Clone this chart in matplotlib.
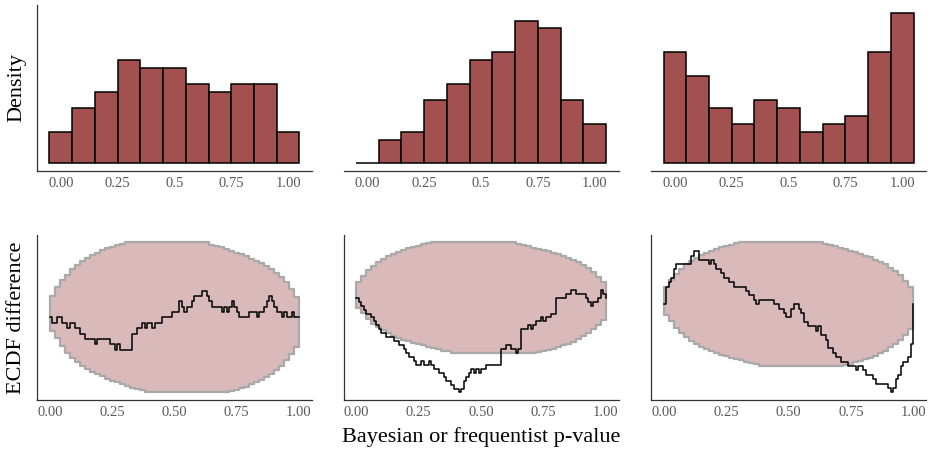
import numpy as np
import matplotlib
matplotlib.use("Agg")
import matplotlib.pyplot as plt

plt.rcParams['font.family'] = ['Liberation Serif', 'DejaVu Serif']

# histogram of p-values, 11 bins of width 0.1 centred on 0, 0.1, ..., 1
bin_centers = [0.0, 0.1, 0.2, 0.3, 0.4, 0.5, 0.6, 0.7, 0.8, 0.9, 1.0]
dens_1 = [0.4, 0.7, 0.9, 1.3, 1.2, 1.2, 1.0, 0.9, 1.0, 1.0, 0.4]
dens_2 = [0.0, 0.3, 0.4, 0.8, 1.0, 1.3, 1.4, 1.8, 1.7, 0.8, 0.5]
dens_3 = [1.4, 1.1, 0.7, 0.5, 0.8, 0.7, 0.4, 0.5, 0.6, 1.4, 1.9]
top_ticks = [0.0, 0.25, 0.5, 0.75, 1.0]
top_labels = ["0.00", "0.25", "0.5", "0.75", "1.00"]
bottom_labels = ["0.00", "0.25", "0.50", "0.75", "1.00"]

# ECDF difference (in 1/100) evaluated at z = 0, 0.01, ..., 1
ecdf_1 = [0, -1, -1, 0, 0, -1, -1, -2, -1, -1, -2, -2, -3, -3, -4, -4, -4, -4, -5, -4,
          -4, -4, -4, -4, -5, -5, -6, -5, -6, -6, -6, -6, -6, -3, -3, -2, -2, -1, -2, -1,
          -1, -2, -1, -1, -1, 0, 0, 0, 0, 1, 1, 1, 3, 2, 1, 2, 2, 3, 4, 4,
          4, 5, 5, 4, 3, 2, 2, 2, 2, 1, 2, 1, 2, 3, 2, 1, 0, 0, 0, 0,
          1, 1, 1, 0, 1, 1, 2, 3, 4, 3, 2, 1, 1, 0, 1, 0, 0, 1, 0, 0, 0]
ecdf_2 = [0, -1, -2, -3, -4, -4, -5, -6, -7, -8, -9, -9, -10, -10, -10, -11, -11, -12, -12, -13,
          -14, -15, -15, -16, -17, -17, -16, -17, -17, -16, -17, -18, -18, -19, -19, -20, -21, -21, -22, -23,
          -23, -24, -23, -21, -20, -19, -18, -19, -18, -19, -18, -18, -17, -17, -17, -17, -17, -17, -13, -13,
          -12, -12, -13, -13, -14, -13, -8, -8, -8, -7, -8, -7, -6, -6, -5, -6, -5, -5, -4, -4,
          0, 0, 0, 0, 1, 1, 2, 2, 1, 1, 1, 1, 0, -1, -2, -1, -1, 0, 2, 1, 0]
ecdf_3 = [0, 4, 5, 6, 8, 9, 9, 9, 9, 9, 9, 11, 12, 12, 10, 10, 10, 10, 9, 10,
          9, 8, 8, 7, 6, 6, 5, 5, 4, 4, 4, 4, 4, 3, 2, 2, 1, 0, 1, 1,
          1, 1, 1, 1, 0, 0, -1, -1, -2, -3, -3, -1, 0, 0, -1, -2, -4, -4, -5, -5,
          -5, -6, -5, -7, -7, -8, -10, -10, -11, -12, -12, -13, -13, -13, -14, -14, -14, -15, -14, -14,
          -15, -16, -16, -16, -17, -18, -18, -18, -18, -18, -19, -20, -19, -17, -16, -14, -13, -13, -12, -9, 0]

# upper edge of the simultaneous band (in 1/100) at z = 0, 0.02, ..., 1
band_upper = [4.0, 5.6, 6.9, 8.0, 9.0, 9.8, 10.5, 11.1, 11.7, 12.1,
              12.5, 12.9, 13.2, 13.5, 13.8, 14, 14, 14, 14, 14,
              14, 14, 14, 14, 14, 14, 14, 14, 14, 14,
              14, 14, 13.6, 13.4, 13.1, 12.7, 12.4, 12.1, 11.8, 11.4,
              11.0, 10.6, 10.1, 9.6, 9.0, 8.3, 7.5, 6.6, 5.3, 3.9, 2.5]

bar_color = '#A25050'
band_color = '#d9b9b9'
band_edge = '#a9a9a9'
axis_color = '#333333'
tick_color = '#595959'

fig = plt.figure(figsize=(9.31, 4.51), dpi=100)

lefts = [0.0397, 0.369, 0.6993]
width = 0.2954
top_axes = [fig.add_axes([l, 0.6208, width, 0.368]) for l in lefts]
bot_axes = [fig.add_axes([l, 0.1131, width, 0.366]) for l in lefts]

def style(ax, show_left):
    for side in ['top', 'right']:
        ax.spines[side].set_visible(False)
    ax.spines['left'].set_visible(show_left)
    for side in ['left', 'bottom']:
        ax.spines[side].set_color(axis_color)
        ax.spines[side].set_linewidth(0.9)
    ax.set_yticks([])
    ax.tick_params(axis='x', length=0, pad=4, labelsize=10.5, labelcolor=tick_color)

for i, (ax, d) in enumerate(zip(top_axes, [dens_1, dens_2, dens_3])):
    ax.bar(bin_centers, d, width=0.1, color=bar_color, edgecolor='black', linewidth=1.1)
    ax.set_xlim(-0.105, 1.105)
    ax.set_ylim(-0.095, 1.995)
    ax.set_xticks(top_ticks)
    ax.set_xticklabels(top_labels)
    style(ax, i == 0)

z = np.linspace(0, 1, len(ecdf_1))
zb = np.linspace(0, 1, len(band_upper))
up = np.array(band_upper) / 100
lo = -up[::-1]

for ax, e in zip(bot_axes, [ecdf_1, ecdf_2, ecdf_3]):
    e = np.array(e) / 100
    ax.fill_between(zb, lo, up, step='post', facecolor=band_color,
                    edgecolor=band_edge, linewidth=1.6)
    ax.step(z, e, where='post', color='black', linewidth=1.1)
    ax.set_xlim(-0.052, 1.052)
    ymin = min(lo.min(), e.min())
    ymax = max(up.max(), e.max())
    pad = 0.05 * (ymax - ymin)
    ax.set_ylim(ymin - pad, ymax + pad)
    ax.set_xticks(top_ticks)
    ax.set_xticklabels(bottom_labels)
    style(ax, True)

fig.text(0.018, 0.805, "Density", rotation=90, ha='center', va='center', fontsize=16)
fig.text(0.018, 0.296, "ECDF difference", rotation=90, ha='center', va='center', fontsize=16)
fig.text(0.517, 0.03, "Bayesian or frequentist p-value", ha='center', va='center', fontsize=16)

fig.savefig("out.png", dpi=100)
